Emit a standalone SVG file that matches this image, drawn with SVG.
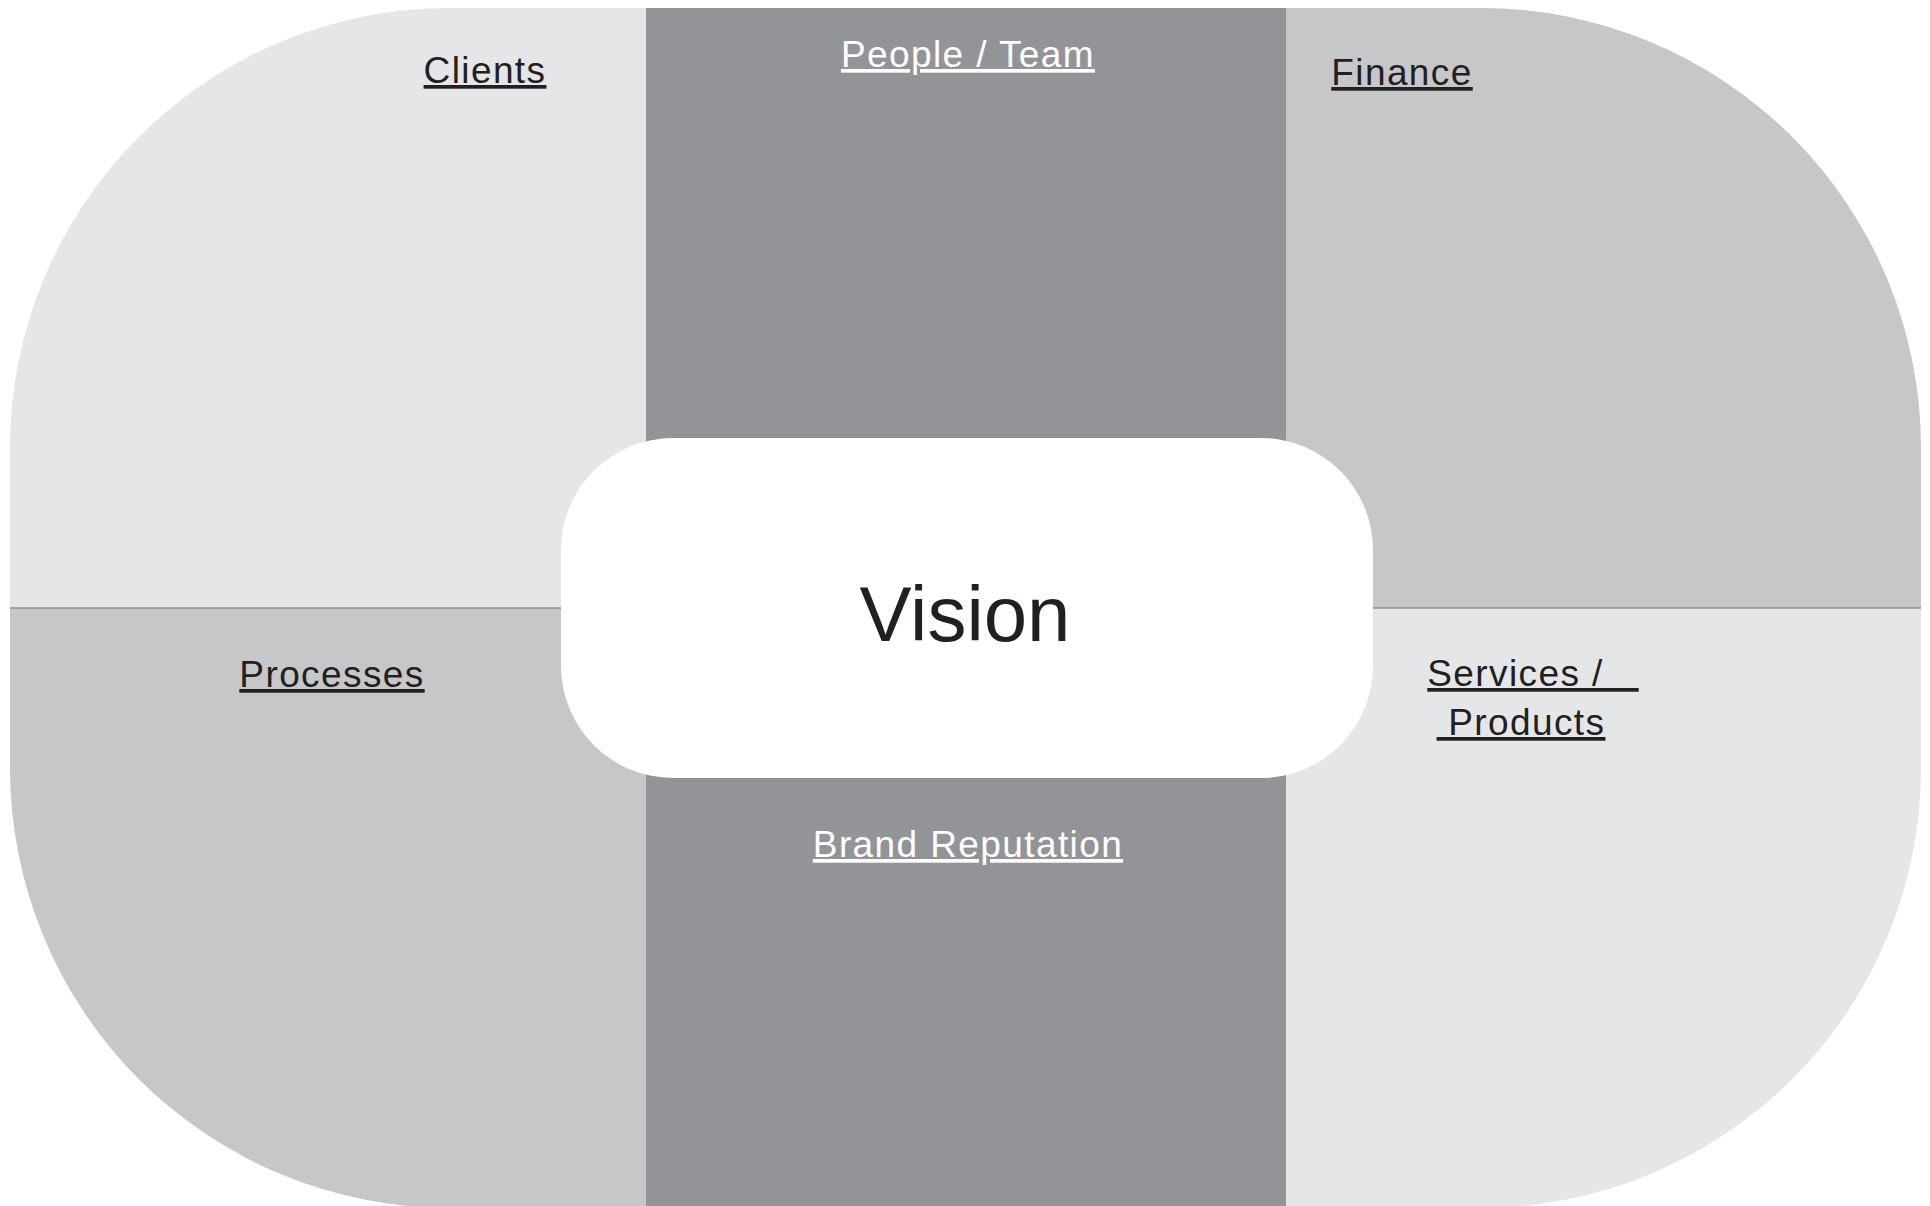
<svg xmlns="http://www.w3.org/2000/svg" width="1930" height="1206" viewBox="0 0 1930 1206">
  <style>
    .light { fill: #e5e6e8; }
    .mid { fill: #c6c7c9; }
    .dark { fill: #939498; }
    .label { font-family: "Liberation Sans", Arial, sans-serif; font-size: 37px; letter-spacing: 1.4px; text-anchor: middle; text-decoration: underline; }
    .ink { fill: #231f20; }
    .paper { fill: #ffffff; }
    .title { font-family: "Liberation Sans", Arial, sans-serif; font-size: 78px; fill: #231f20; text-anchor: middle; }
    .divider { stroke: #8e8f93; stroke-width: 1.5; fill: none; }
  </style>
  <defs>
    <!-- overall rounded outline shared by all segments -->
    <clipPath id="outline">
      <rect x="10" y="8" width="1911" height="1200" rx="440" ry="440"/>
    </clipPath>
  </defs>

  <rect width="1930" height="1206" fill="#ffffff"/>

  <g clip-path="url(#outline)">
    <g id="clients">
      <rect class="light" x="10" y="8" width="636" height="600"/>
      <text class="label ink" x="485" y="83">Clients</text>
    </g>
    <g id="finance">
      <rect class="mid" x="1286" y="8" width="635" height="600"/>
      <text class="label ink" x="1402" y="85">Finance</text>
    </g>
    <g id="processes">
      <rect class="mid" x="10" y="608" width="636" height="600"/>
      <text class="label ink" x="332" y="687">Processes</text>
    </g>
    <g id="services-products">
      <rect class="light" x="1286" y="608" width="635" height="600"/>
      <text class="label ink" xml:space="preserve" x="1533" y="686">Services /   </text>
      <text class="label ink" xml:space="preserve" x="1521" y="735"> Products</text>
    </g>
    <g id="people-team">
      <rect class="dark" x="646" y="8" width="640" height="600"/>
      <text class="label paper" x="968" y="67">People / Team</text>
    </g>
    <g id="brand-reputation">
      <rect class="dark" x="646" y="608" width="640" height="600"/>
      <text class="label paper" x="968" y="857">Brand Reputation</text>
    </g>
  </g>

  <g id="dividers">
    <line class="divider" x1="10" y1="608" x2="562" y2="608"/>
    <line class="divider" x1="1372" y1="608" x2="1921" y2="608"/>
  </g>

  <g id="vision">
    <rect x="561" y="438" width="812" height="340" rx="112" ry="112" fill="#ffffff"/>
    <text class="title" x="965" y="641">Vision</text>
  </g>
</svg>
